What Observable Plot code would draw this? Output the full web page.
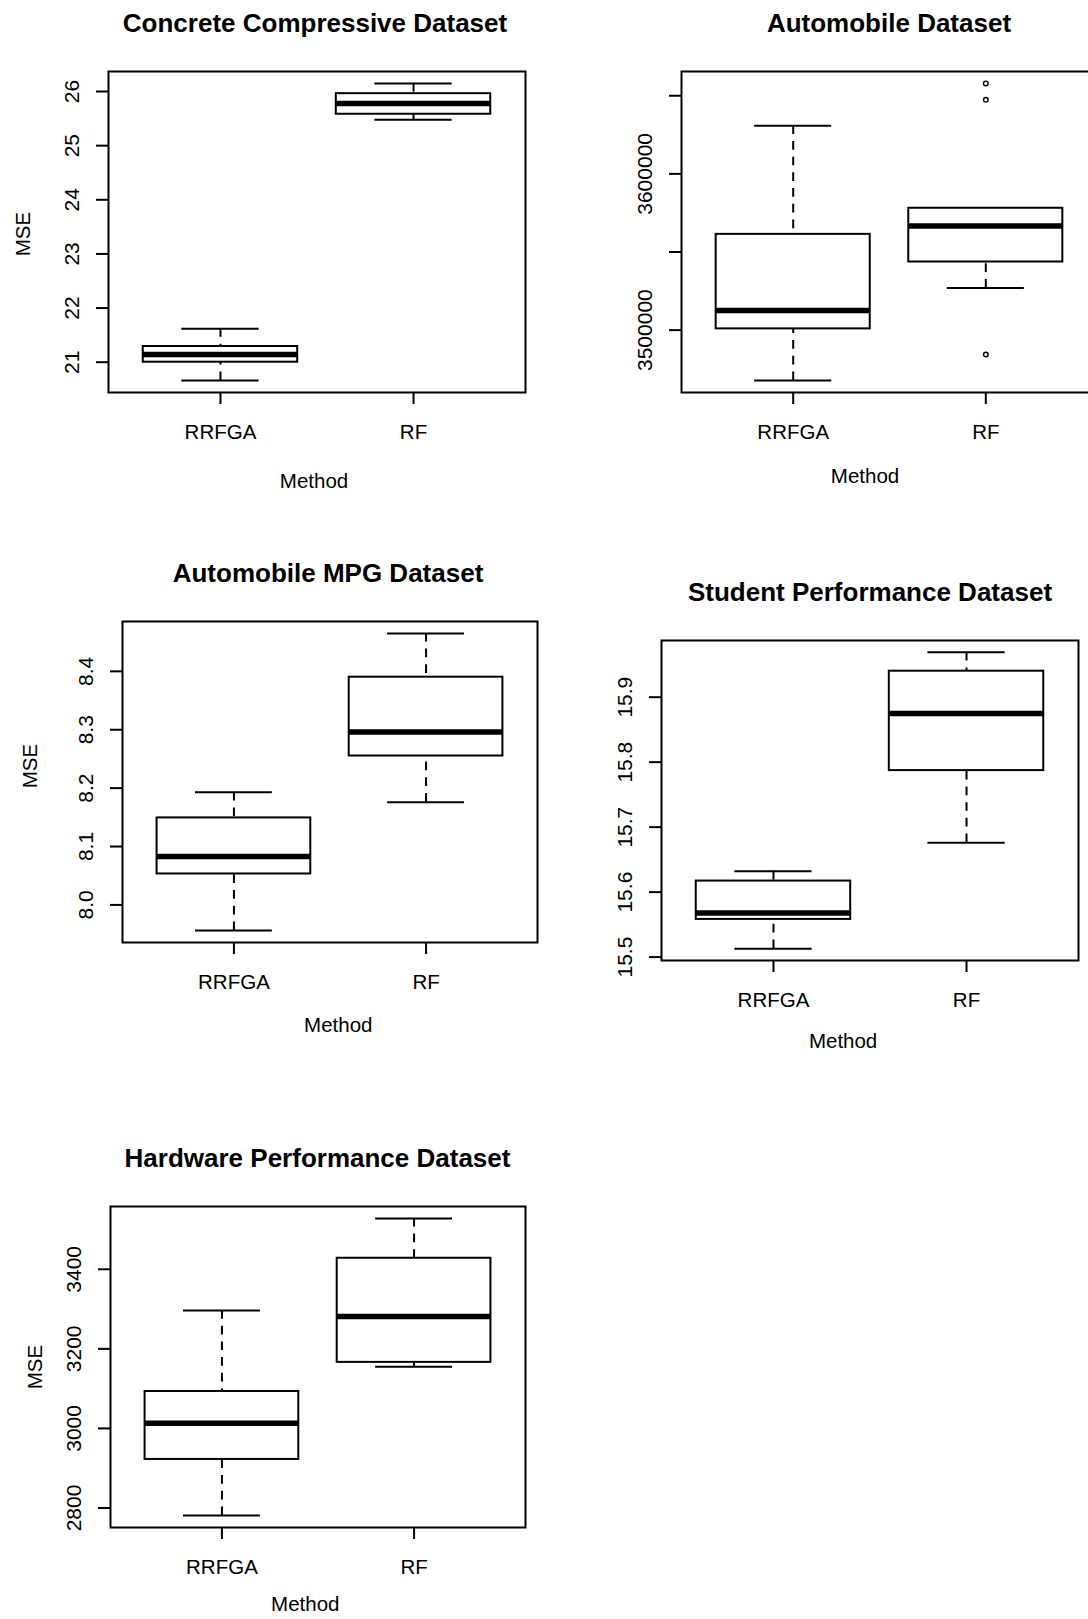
<!DOCTYPE html>
<html>
<head>
<meta charset="utf-8">
<script src="https://cdn.jsdelivr.net/npm/d3@7"></script>
<script src="https://cdn.jsdelivr.net/npm/@observablehq/plot@0.6"></script>
<style>
  html, body { margin: 0; padding: 0; background: #fff; width: 1088px; height: 1619px; overflow: hidden; }
  #root { position: relative; width: 1088px; height: 1619px; font-family: "Liberation Sans", Arial, sans-serif; color: #000; }
  .panel { position: absolute; }
  .lbl { position: absolute; white-space: nowrap; line-height: 1; transform: translate(-50%, -50%); }
  .title { font-weight: bold; font-size: 26px; }
  .axlbl { font-size: 20.5px; }
  .rot { transform: translate(-50%, -50%) rotate(-90deg); }
</style>
</head>
<body>
<div id="root"></div>
<script>
// ---------- data ----------
const methods = ["RRFGA", "RF"];

const titles = [
  "Concrete Compressive Dataset",
  "Automobile Dataset",
  "Automobile MPG Dataset",
  "Student Performance Dataset",
  "Hardware Performance Dataset"
];

// five-number summaries: [lower whisker, Q1, median, Q3, upper whisker]
const concreteRRFGA = [20.66, 21.00, 21.14, 21.29, 21.62];
const concreteRF    = [25.48, 25.58, 25.78, 25.96, 26.15];

const autoRRFGA = [3467700, 3500800, 3512600, 3561300, 3630800];
const autoRF    = [3526900, 3543600, 3566700, 3578000, 3578000];
const autoRFOutliers = [3657900, 3647400, 3484400];

const mpgRRFGA = [7.956, 8.053, 8.083, 8.149, 8.193];
const mpgRF    = [8.176, 8.255, 8.296, 8.390, 8.465];

const studentRRFGA = [15.513, 15.558, 15.568, 15.617, 15.632];
const studentRF    = [15.676, 15.787, 15.875, 15.940, 15.969];

const hardwareRRFGA = [2780.8, 2922.0, 3013.0, 3092.8, 3296.5];
const hardwareRF    = [3155.2, 3166.0, 3281.4, 3427.8, 3528.0];

// axis ticks and labels
const concreteTicks = [21, 22, 23, 24, 25, 26];
const concreteTickLabels = ["21", "22", "23", "24", "25", "26"];
const autoTicks = [3500000, 3550000, 3600000, 3650000];
const autoTickLabels = ["3500000", "", "3600000", ""];
const mpgTicks = [8.0, 8.1, 8.2, 8.3, 8.4];
const mpgTickLabels = ["8.0", "8.1", "8.2", "8.3", "8.4"];
const studentTicks = [15.5, 15.6, 15.7, 15.8, 15.9];
const studentTickLabels = ["15.5", "15.6", "15.7", "15.8", "15.9"];
const hardwareTicks = [2800, 3000, 3200, 3400];
const hardwareTickLabels = ["2800", "3000", "3200", "3400"];

const xLabel = "Method";
const yLabel = "MSE";

// ---------- layout (style) ----------
const ML = 60, MR = 14, MT = 14, MB = 60;
const panels = [
  {stats: [concreteRRFGA, concreteRF], outliers: [[], []], ticks: concreteTicks, tickLabels: concreteTickLabels,
   frame: {x: 108, y: 71, w: 417, h: 321}, title: [315, 23.2], method: [314, 480.7], mse: [22.6, 234]},
  {stats: [autoRRFGA, autoRF], outliers: [[], autoRFOutliers], ticks: autoTicks, tickLabels: autoTickLabels,
   frame: {x: 681, y: 71, w: 416, h: 321}, title: [889, 22.8], method: [865, 475.7], mse: null},
  {stats: [mpgRRFGA, mpgRF], outliers: [[], []], ticks: mpgTicks, tickLabels: mpgTickLabels,
   frame: {x: 122, y: 621, w: 415, h: 321}, title: [328, 573.2], method: [338.3, 1024.7], mse: [29.5, 765.8]},
  {stats: [studentRRFGA, studentRF], outliers: [[], []], ticks: studentTicks, tickLabels: studentTickLabels,
   frame: {x: 661, y: 640, w: 417, h: 320}, title: [870, 591.8], method: [843.1, 1040.5], mse: null},
  {stats: [hardwareRRFGA, hardwareRF], outliers: [[], []], ticks: hardwareTicks, tickLabels: hardwareTickLabels,
   frame: {x: 110, y: 1206, w: 415, h: 321}, title: [317.5, 1158.3], method: [305.3, 1604], mse: [34.7, 1366.7]}
];

const root = document.getElementById("root");

function addLabel(text, [cx, cy], cls) {
  const d = document.createElement("div");
  d.className = "lbl " + cls;
  d.textContent = text;
  d.style.left = cx + "px";
  d.style.top = cy + "px";
  root.appendChild(d);
}

function boxPanel(p) {
  const rows = methods.map((m, i) => ({
    method: m, idx: i + 1,
    lo: p.stats[i][0], q1: p.stats[i][1], med: p.stats[i][2], q3: p.stats[i][3], hi: p.stats[i][4]
  }));
  const outs = methods.flatMap((m, i) => p.outliers[i].map(v => ({idx: i + 1, value: v})));
  const all = [...p.stats.flat(), ...outs.map(o => o.value)];
  const [mn, mx] = d3.extent(all);
  const pad = (mx - mn) * 0.04;
  const n = methods.length;
  const xpad = n * 0.04;
  const tickRows = p.ticks.map((t, i) => ({t, label: p.tickLabels[i]})).filter(d => d.label !== "");

  return Plot.plot({
    width: p.frame.w + ML + MR,
    height: p.frame.h + MT + MB,
    marginLeft: ML, marginRight: MR, marginTop: MT, marginBottom: MB,
    x: {type: "linear", domain: [0.5 - xpad, n + 0.5 + xpad], axis: null},
    y: {domain: [mn - pad, mx + pad], axis: null},
    style: {background: "transparent", fontFamily: "'Liberation Sans', Arial, sans-serif", color: "#000", overflow: "visible"},
    marks: [
      // whiskers (dashed, drawn from whisker end toward the box)
      Plot.ruleX(rows, {x: "idx", y1: "hi", y2: "q3", stroke: "#000", strokeWidth: 2, strokeDasharray: "8.7,7"}),
      Plot.ruleX(rows, {x: "idx", y1: "lo", y2: "q1", stroke: "#000", strokeWidth: 2, strokeDasharray: "8.7,7"}),
      // staples
      Plot.ruleY(rows, {y: "hi", x1: d => d.idx - 0.2, x2: d => d.idx + 0.2, stroke: "#000", strokeWidth: 2}),
      Plot.ruleY(rows, {y: "lo", x1: d => d.idx - 0.2, x2: d => d.idx + 0.2, stroke: "#000", strokeWidth: 2}),
      // boxes
      Plot.rect(rows, {x1: d => d.idx - 0.4, x2: d => d.idx + 0.4, y1: "q1", y2: "q3", fill: "#fff", stroke: "#000", strokeWidth: 2}),
      // medians
      Plot.ruleY(rows, {y: "med", x1: d => d.idx - 0.4, x2: d => d.idx + 0.4, stroke: "#000", strokeWidth: 5.5}),
      // outliers
      Plot.dot(outs, {x: "idx", y: "value", r: 2.3, stroke: "#000", strokeWidth: 1.4, fill: "none"}),
      // frame
      Plot.frame({stroke: "#000", strokeWidth: 2}),
      // axes
      Plot.axisY(p.ticks, {tickSize: 12, stroke: "#000", strokeWidth: 2, fill: "none", label: null}),
      Plot.text(tickRows, {y: "t", text: "label", frameAnchor: "left", dx: -36, rotate: -90,
        textAnchor: "middle", lineAnchor: "middle", fontSize: 21, fill: "#000"}),
      Plot.axisX([1, 2], {tickSize: 12, stroke: "#000", strokeWidth: 2, fill: "none", label: null}),
      Plot.text(rows, {x: "idx", text: "method", frameAnchor: "bottom", dy: 40,
        textAnchor: "middle", lineAnchor: "middle", fontSize: 20.5, fill: "#000"})
    ]
  });
}

panels.forEach((p, k) => {
  const svg = boxPanel(p);
  svg.classList.add("panel");
  svg.style.left = (p.frame.x - ML) + "px";
  svg.style.top = (p.frame.y - MT) + "px";
  svg.style.maxWidth = "none";
  root.appendChild(svg);
  addLabel(titles[k], p.title, "title");
  addLabel(xLabel, p.method, "axlbl");
  if (p.mse) addLabel(yLabel, p.mse, "axlbl rot");
});
</script>
</body>
</html>
